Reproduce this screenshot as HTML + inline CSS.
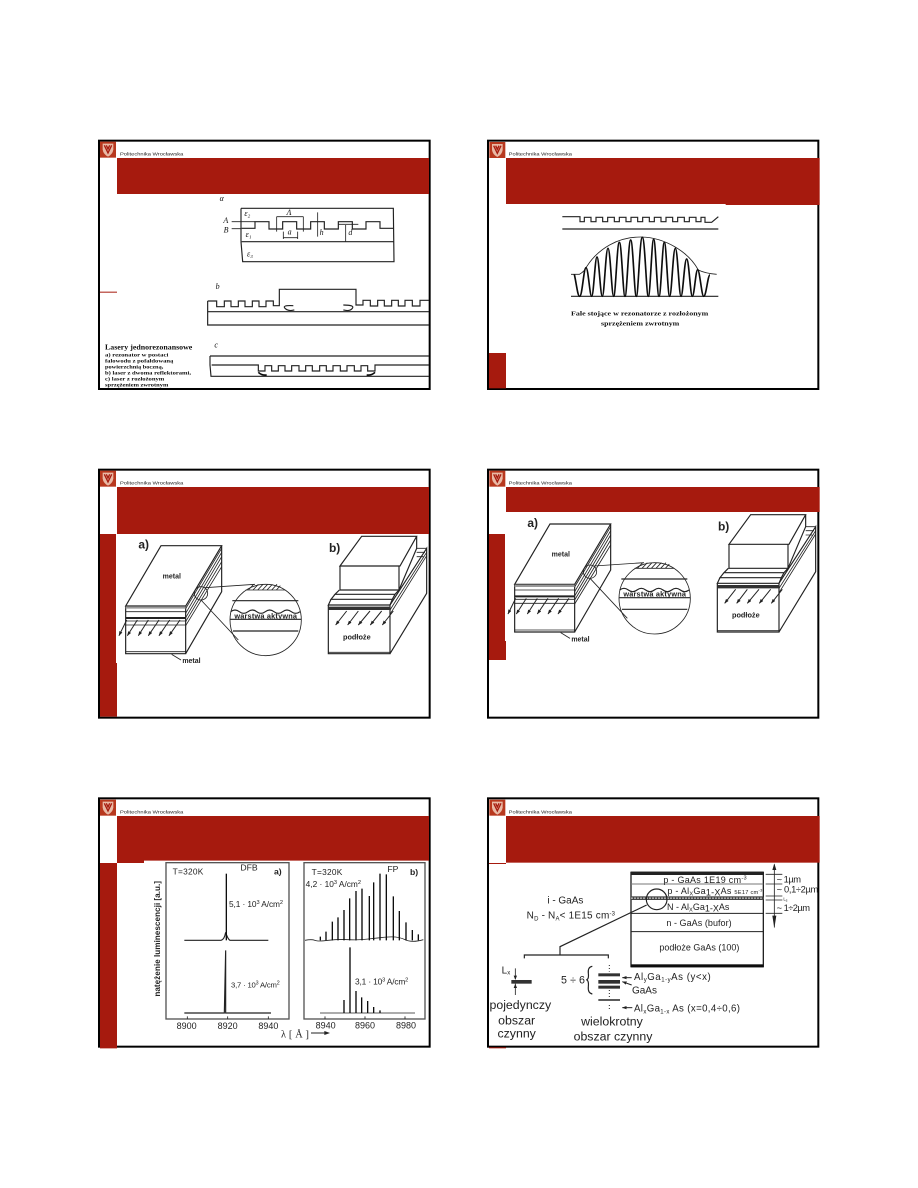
<!DOCTYPE html>
<html><head><meta charset="utf-8"><style>
html,body{margin:0;padding:0;background:#fff}
svg{display:block}
text{font-family:"Liberation Sans",sans-serif;fill:#222}
.s{font-family:"Liberation Serif",serif;font-weight:bold;fill:#111}
.b{font-weight:bold;fill:#222}
.i{font-family:"Liberation Serif",serif;font-style:italic;fill:#111}
.l{fill:none;stroke:#222;stroke-width:3.500}
.t{fill:none;stroke:#222;stroke-width:2.500}
.k{fill:none;stroke:#111;stroke-width:5}
.a{fill:none;stroke:#222;stroke-width:3;marker-end:url(#ar)}
</style></head><body>
<svg xmlns="http://www.w3.org/2000/svg" width="918" height="1188" viewBox="0 0 918 1188">
<defs>
<filter id="bl" x="-2%" y="-2%" width="104%" height="104%"><feGaussianBlur stdDeviation="0.7"/></filter>
<marker id="ar" markerUnits="userSpaceOnUse" markerWidth="16" markerHeight="12" refX="13" refY="5" orient="auto"><path d="M0 0L14 5L0 10Z" fill="#222"/></marker>
<g id="logo"><rect width="48" height="48" fill="#b8381e"/><path d="M8 6H40V24Q38 38 24 45Q10 38 8 24Z" fill="#e9b9a5"/><path d="M13 11L24 34L35 11M19 11L24 22L29 11" fill="none" stroke="#a61a0e" stroke-width="4"/></g>
<g id="a1">
<path class="l" d="M92 423L198 242H380L272 423ZM92 423V566H272V423M380 242V380L272 566"/>
<path class="t" d="M92 440H272M92 480H272M92 560H272M272 431L380 250M272 445L380 262M272 458L380 275M272 470L380 290M272 482L380 305"/>
<path d="M92 456H272V462H92Z" fill="#222"/>
<path class="t" d="M92 468H272"/>
<path d="M92 424H272V431H92Z" fill="#999"/>
<path class="a" d="M95 465L72 512"/><path class="a" d="M127 465L97 512"/><path class="a" d="M160 465L130 512"/><path class="a" d="M192 465L160 512"/><path class="a" d="M224 465L192 512"/><path class="a" d="M255 465L222 512"/>
<path class="t" d="M230 568L258 585"/>
<circle cx="318" cy="385" r="20" class="t"/>
<circle cx="512" cy="465" r="107" class="t"/>
<path class="t" d="M330 368L480 358M318 405L430 525"/>
<path class="t" d="M452 375H570M460 375L476 358M474 375L490 358M488 375L504 358M502 375L518 358M516 375L532 358M530 375L546 358M544 375L556 362"/>
<path class="l" d="M412 407H610M406 463H618M414 498H610"/>
<path class="l" d="M407 440q13-10 26 0t26 0t26 0t26 0t26 0t26 0t26 0t26 0"/>
</g>
<g id="b1">
<path class="l" d="M735 303L800 214H965L915 303ZM735 303V375H912V303M965 214V250L912 375"/>
<path class="l" d="M733 375L720 388H900L912 375M720 388L708 403H892L900 388M708 403L700 420H885L892 403"/>
<path class="l" d="M700 420V566H885V420L995 250V385L885 566"/>
<path class="t" d="M700 562H885M885 435L995 262M885 448L995 272M965 250H995M965 262H990M965 275H985"/>
<path d="M700 425H885V435H700Z" fill="#333"/>
<path class="a" d="M755 438L722 480"/><path class="a" d="M790 438L758 480"/><path class="a" d="M825 438L790 480"/><path class="a" d="M860 438L826 480"/><path class="a" d="M895 438L862 480"/>
</g>
</defs>
<rect width="918" height="1188" fill="#fff"/>

<!-- SLIDE 1 -->
<g transform="translate(95,135) scale(.33333)">
<rect x="12" y="17" width="992" height="745" fill="#fff" stroke="#000" stroke-width="6"/>
<use href="#logo" x="15" y="20"/>
<text x="75" y="62" font-size="15" textLength="190" lengthAdjust="spacingAndGlyphs">Politechnika Wrocławska</text>
<rect x="66" y="69" width="936" height="108" fill="#a61a0e"/>
<rect x="15" y="470" width="51" height="3" fill="#a61a0e"/>
<g filter="url(#bl)">
<path class="l" d="M438 220H895L897 380H443L438 320M438 220V320M440 320H897"/>
<path class="l" d="M440 280H480V260H522V282H563V260H605V282H647V260H688V282H730V260H772V282H813V260H855V280H895"/>
<path class="t" d="M410 260H480M410 281H440M545 245V290M625 245V290M545 245H625M668 232V305M565 308H608M565 290V312M608 290V312M752 270V320M730 268H790"/>
<text class="i" x="374" y="198" font-size="24">α</text><text class="i" x="448" y="243" font-size="24">ε₂</text>
<text class="i" x="385" y="264" font-size="24">A</text><text class="i" x="386" y="292" font-size="24">B</text>
<text class="i" x="452" y="306" font-size="24">ε₁</text><text class="i" x="456" y="365" font-size="24">ε₃</text>
<text class="i" x="575" y="240" font-size="24">Λ</text><text class="i" x="578" y="298" font-size="24">a</text>
<text class="i" x="674" y="300" font-size="24">h</text><text class="i" x="760" y="300" font-size="24">d</text>
<text class="i" x="362" y="462" font-size="24">b</text><text class="i" x="358" y="638" font-size="24">c</text>
<path class="l" d="M338 498H365V515H388V498H408V515H430V498H450V515H472V498H492V515H513V498H535V512H553V463H783V510H804V496H826V513H848V496H868V513H890V496H910V513H930V496H952V513H975V496H1002"/>
<path class="l" d="M338 498V570H1002M338 530H1002"/>
<path class="l" d="M595 512Q560 510 570 520T598 525M745 510Q780 510 772 520T745 525"/>
<path class="l" d="M345 663H1002M350 690H490V708H510V692H530V708H550V692H570V708H590V692H612V708H632V692H652V708H674V692H694V708H714V692H736V708H756V692H778V708H798V692H818V708H840V690H1002M345 663V690L348 724H1002"/>
<path class="k" d="M490 712Q500 722 515 720M840 712Q830 722 815 720"/>
<text class="s" x="30" y="643" font-size="21" textLength="262" lengthAdjust="spacingAndGlyphs">Lasery jednorezonansowe</text>
<text class="s" x="30" y="665" font-size="16" textLength="190" lengthAdjust="spacingAndGlyphs">a) rezonator w postaci</text>
<text class="s" x="30" y="682" font-size="16" textLength="205" lengthAdjust="spacingAndGlyphs">falowodu z pofałdowaną</text>
<text class="s" x="30" y="700" font-size="16" textLength="175" lengthAdjust="spacingAndGlyphs">powierzchnią boczną,</text>
<text class="s" x="30" y="719" font-size="16" textLength="258" lengthAdjust="spacingAndGlyphs">b) laser z dwoma reflektorami,</text>
<text class="s" x="30" y="737" font-size="16" textLength="178" lengthAdjust="spacingAndGlyphs">c) laser z rozłożonym</text>
<text class="s" x="30" y="755" font-size="16" textLength="190" lengthAdjust="spacingAndGlyphs">sprzężeniem zwrotnym</text>
</g>
</g>

<!-- SLIDE 2 -->
<g transform="translate(485,135) scale(.33333)">
<rect x="9" y="17" width="991" height="745" fill="#fff" stroke="#000" stroke-width="6"/>
<use href="#logo" x="13" y="21"/>
<text x="71" y="62" font-size="15" textLength="190" lengthAdjust="spacingAndGlyphs">Politechnika Wrocławska</text>
<path d="M63 69H1004V210H722V207H63Z" fill="#a61a0e"/>
<rect x="12" y="654" width="51" height="106" fill="#a61a0e"/>
<g filter="url(#bl)">
<path class="l" d="M232 245H285V260H298V247H318V260H333V247H353V260H368V247H388V260H403V247H423V260H438V247H458V260H473V247H493V260H508V247H528V260H543V247H563V260H578V247H598V260H613V247H633V260H648V247H660V262H680L700 245"/>
<path class="l" d="M232 282H700M258 484H700"/>
<path class="t" d="M258 418H283Q300 408 305 395C340 340 400 305 470 306C540 308 610 350 640 405Q660 415 695 418"/>
<path d="M268 418C275 450 278 484 284 484C292 484 296 398 303 398C310 398 314 484 320 484C326 484 330 366 336 366C342 366 346 484 352 484C358 484 362 340 369 340C376 340 380 484 386 484C392 484 396 322 403 322C410 322 414 484 420 484C426 484 430 315 437 315C444 315 448 484 454 484C460 484 464 307 472 307C480 307 484 484 490 484C496 484 500 313 506 313C512 313 516 484 522 484C528 484 532 322 538 322C544 322 548 484 554 484C560 484 564 340 571 340C578 340 582 484 588 484C594 484 598 372 605 372C612 372 616 484 622 484C628 484 632 404 638 404C644 404 650 484 656 484C664 484 668 420 675 420" fill="none" stroke="#111" stroke-width="5"/>
<text class="s" x="258" y="542" font-size="20" textLength="412" lengthAdjust="spacingAndGlyphs">Fale stojące w rezonatorze z rozłożonym</text>
<text class="s" x="348" y="572" font-size="20" textLength="235" lengthAdjust="spacingAndGlyphs">sprzężeniem zwrotnym</text>
</g>
</g>

<!-- SLIDE 3 -->
<g transform="translate(95,465) scale(.33333)">
<rect x="12" y="14" width="992" height="744" fill="#fff" stroke="#000" stroke-width="6"/>
<use href="#logo" x="15" y="17"/>
<text x="75" y="58" font-size="15" textLength="190" lengthAdjust="spacingAndGlyphs">Politechnika Wrocławska</text>
<rect x="66" y="66" width="936" height="141" fill="#a61a0e"/>
<path d="M15 207H63V594H66V755H15Z" fill="#a61a0e"/>
<g filter="url(#bl)">
<use href="#a1"/><use href="#b1"/>
<text x="130" y="251" font-size="36" class="b">a)</text>
<text x="702" y="261" font-size="36" class="b">b)</text>
<text x="203" y="340" font-size="21" class="b">metal</text>
<text x="262" y="594" font-size="21" class="b">metal</text>
<text x="418" y="460" font-size="22" class="b" textLength="188">warstwa aktywna</text>
<text x="744" y="523" font-size="22" class="b">podłoże</text>
</g>
</g>

<!-- SLIDE 4 -->
<g transform="translate(485,465) scale(.33333)">
<rect x="9" y="14" width="991" height="744" fill="#fff" stroke="#000" stroke-width="6"/>
<use href="#logo" x="13" y="17"/>
<text x="71" y="58" font-size="15" textLength="190" lengthAdjust="spacingAndGlyphs">Politechnika Wrocławska</text>
<rect x="63" y="66" width="941" height="75" fill="#a61a0e"/>
<path d="M12 207H60V528H63V585H12Z" fill="#a61a0e"/>
<g filter="url(#bl)" transform="translate(-3,-65)">
<use href="#a1"/><use href="#b1"/>
<text x="130" y="251" font-size="36" class="b">a)</text>
<text x="702" y="261" font-size="36" class="b">b)</text>
<text x="203" y="340" font-size="21" class="b">metal</text>
<text x="262" y="594" font-size="21" class="b">metal</text>
<text x="418" y="460" font-size="22" class="b" textLength="188">warstwa aktywna</text>
<text x="744" y="523" font-size="22" class="b">podłoże</text>
</g>
</g>

<!-- SLIDE 5 -->
<g transform="translate(95,795) scale(.33333)">
<rect x="12" y="10" width="992" height="745" fill="#fff" stroke="#000" stroke-width="6"/>
<use href="#logo" x="15" y="14"/>
<text x="75" y="55" font-size="15" textLength="190" lengthAdjust="spacingAndGlyphs">Politechnika Wrocławska</text>
<path d="M66 63H1002V197H147V204H66Z" fill="#a61a0e"/>
<path d="M15 204H66V760H15Z" fill="#a61a0e"/>
<g filter="url(#bl)">
<rect x="213" y="203" width="369" height="469" fill="none" stroke="#555" stroke-width="4"/>
<rect x="627" y="203" width="363" height="469" fill="none" stroke="#555" stroke-width="4"/>
<path class="t" d="M277 672v-8M398 672v-8M520 672v-8M690 672v-8M810 672v-8M930 672v-8"/>
<text x="233" y="238" font-size="25" textLength="92">T=320K</text>
<text x="436" y="227" font-size="26">DFB</text>
<text x="537" y="238" font-size="26" class="b">a)</text>
<text x="402" y="336" font-size="25" textLength="162">5,1 · 10<tspan font-size="17" dy="-9">3</tspan><tspan dy="9"> A/cm</tspan><tspan font-size="17" dy="-9">2</tspan></text>
<text x="408" y="578" font-size="23" textLength="146">3,7 · 10<tspan font-size="16" dy="-9">3</tspan><tspan dy="9"> A/cm</tspan><tspan font-size="16" dy="-9">2</tspan></text>
<text x="245" y="702" font-size="27">8900</text><text x="368" y="702" font-size="27">8920</text><text x="490" y="702" font-size="27">8940</text>
<text class="b" font-size="25" transform="translate(195,605) rotate(-90)" textLength="347" lengthAdjust="spacingAndGlyphs">natężenie luminescencji [a.u.]</text>
<text x="558" y="727" font-size="31" style="font-family:'Liberation Serif',serif" textLength="84">λ [ Å ]</text>
<path d="M648 714H690" stroke="#222" stroke-width="3"/><path d="M705 714L688 708V720Z" fill="#222"/>
<path d="M268 436H378Q388 434 392 412Q398 432 405 436H520" class="l" stroke="#555"/>
<path d="M394 236V436" stroke="#111" stroke-width="4"/>
<path d="M268 654H388L392 466V654H528" class="l"/>
<text x="650" y="240" font-size="25" textLength="92">T=320K</text>
<text x="877" y="231" font-size="26">FP</text>
<text x="945" y="240" font-size="26" class="b">b)</text>
<text x="632" y="276" font-size="25" textLength="166">4,2 · 10<tspan font-size="17" dy="-9">3</tspan><tspan dy="9"> A/cm</tspan><tspan font-size="17" dy="-9">2</tspan></text>
<text x="780" y="569" font-size="25" textLength="160">3,1 · 10<tspan font-size="17" dy="-9">3</tspan><tspan dy="9"> A/cm</tspan><tspan font-size="17" dy="-9">2</tspan></text>
<text x="662" y="700" font-size="27">8940</text><text x="780" y="700" font-size="27">8960</text><text x="903" y="700" font-size="27">8980</text>
<path class="t" d="M630 436Q650 432 660 436T700 436T760 434T820 432T880 426T930 434T985 434"/>
<path d="M676 436V425M693 436V410M712 436V380M729 436V367M747 436V345M764 436V310M783 436V288M801 436V281M823 436V303M836 436V262M855 436V236M874 436V238M895 436V304M913 436V348M933 436V382M952 436V405M970 436V418" stroke="#111" stroke-width="4" fill="none"/>
<path class="t" d="M675 654H960"/>
<path d="M747 654V615M765 654V457M783 654V588M800 654V607M818 654V618M836 654V636M855 654V646" stroke="#111" stroke-width="4" fill="none"/>
</g>
</g>

<!-- SLIDE 6 -->
<g transform="translate(485,795) scale(.33333)">
<rect x="9" y="10" width="991" height="745" fill="#fff" stroke="#000" stroke-width="6"/>
<use href="#logo" x="13" y="14"/>
<text x="71" y="55" font-size="15" textLength="190" lengthAdjust="spacingAndGlyphs">Politechnika Wrocławska</text>
<rect x="63" y="63" width="941" height="140" fill="#a61a0e"/>
<rect x="12" y="204" width="51" height="3" fill="#a61a0e"/>
<rect x="12" y="757" width="51" height="3" fill="#a61a0e"/>
<g filter="url(#bl)">
<rect x="438" y="232" width="397" height="283" fill="none" stroke="#222" stroke-width="4"/>
<rect x="438" y="508" width="397" height="9" fill="#111"/>
<rect x="438" y="230" width="397" height="10" fill="#222"/>
<path d="M438 267H835" stroke="#777" stroke-width="3"/>
<path d="M438 355H835M438 410H835" stroke="#222" stroke-width="3"/>
<rect x="438" y="304" width="397" height="11" fill="#444"/>
<path d="M438 309.500H835" stroke="#ddd" stroke-width="3" stroke-dasharray="6 3"/>
<ellipse cx="515" cy="313" rx="31" ry="31" class="l"/>
<path class="l" d="M485 330L225 455V480M118 490V480H370V490"/>
<text x="535" y="264" font-size="27" textLength="250">p - GaAs  1E19 cm<tspan font-size="17" dy="-10">-3</tspan></text>
<text x="547" y="297" font-size="27" textLength="285">p - Al<tspan font-size="17" dy="5">X</tspan><tspan dy="-5">Ga</tspan><tspan dy="5">1-X</tspan><tspan dy="-5">As </tspan><tspan font-size="17">5E17 cm</tspan><tspan font-size="12" dy="-8">-3</tspan></text>
<text x="546" y="345" font-size="27" textLength="187">N - Al<tspan font-size="17" dy="5">X</tspan><tspan dy="-5">Ga</tspan><tspan dy="5">1-X</tspan><tspan dy="-5">As</tspan></text>
<text x="544" y="393" font-size="27" textLength="196">n - GaAs (bufor)</text>
<text x="523" y="466" font-size="27" textLength="240">podłoże GaAs (100)</text>
<text x="187" y="325" font-size="30">i - GaAs</text>
<text x="125" y="371" font-size="30" textLength="265">N<tspan font-size="18" dy="5">D</tspan><tspan dy="-5"> - N</tspan><tspan font-size="18" dy="5">A</tspan><tspan dy="-5">&lt; 1E15 cm</tspan><tspan font-size="18" dy="-10">-3</tspan></text>
<path class="t" d="M868 208V397M842 238H892M842 267H892M842 303H892M842 315H892M842 355H892"/>
<path d="M868 205L862 225H874ZM868 400L862 362H874Z" fill="#222"/>
<text x="875" y="262" font-size="28" textLength="73">~ 1µm</text>
<text x="875" y="293" font-size="28" textLength="125">~ 0,1÷2µm</text>
<text x="895" y="317" font-size="13">L<tspan font-size="10" dy="3">s</tspan></text>
<text x="875" y="348" font-size="28" textLength="100">~ 1÷2µm</text>
<text x="50" y="535" font-size="30">L<tspan font-size="18" dy="4">x</tspan></text>
<rect x="79" y="555" width="61" height="11" fill="#333"/>
<path class="t" d="M91 520V552M91 566V600"/>
<path d="M91 555L86 542H96ZM91 566L86 579H96Z" fill="#222"/>
<text x="228" y="566" font-size="32" textLength="72">5 ÷ 6</text>
<path class="l" d="M322 514Q308 516 310 535T304 554Q312 556 310 575T322 597"/>
<rect x="340" y="535" width="65" height="9" fill="#333"/><rect x="340" y="555" width="65" height="11" fill="#333"/><rect x="340" y="572" width="65" height="9" fill="#333"/>
<rect x="340" y="613" width="65" height="4" fill="#111"/>
<path d="M373 510V530M373 585V610M373 630V648" stroke="#222" stroke-width="3" stroke-dasharray="3 6" fill="none"/>
<path class="a" d="M440 548H412"/><path class="a" d="M440 570L412 560"/><path class="a" d="M442 638H412"/>
<text x="447" y="555" font-size="29" textLength="230">Al<tspan font-size="18" dy="5">y</tspan><tspan dy="-5">Ga</tspan><tspan font-size="18" dy="5">1-y</tspan><tspan dy="-5">As (y&lt;x)</tspan></text>
<text x="441" y="596" font-size="30">GaAs</text>
<text x="447" y="650" font-size="29" textLength="318">Al<tspan font-size="18" dy="5">x</tspan><tspan dy="-5">Ga</tspan><tspan font-size="18" dy="5">1-x</tspan><tspan dy="-5"> As (x=0,4÷0,6)</tspan></text>
<text x="106" y="642" font-size="37" text-anchor="middle">pojedynczy</text>
<text x="95" y="688" font-size="37" text-anchor="middle">obszar</text>
<text x="95" y="727" font-size="37" text-anchor="middle">czynny</text>
<text x="381" y="691" font-size="37" text-anchor="middle">wielokrotny</text>
<text x="384" y="737" font-size="37" text-anchor="middle">obszar czynny</text>
</g>
</g>
</svg>
</body></html>
